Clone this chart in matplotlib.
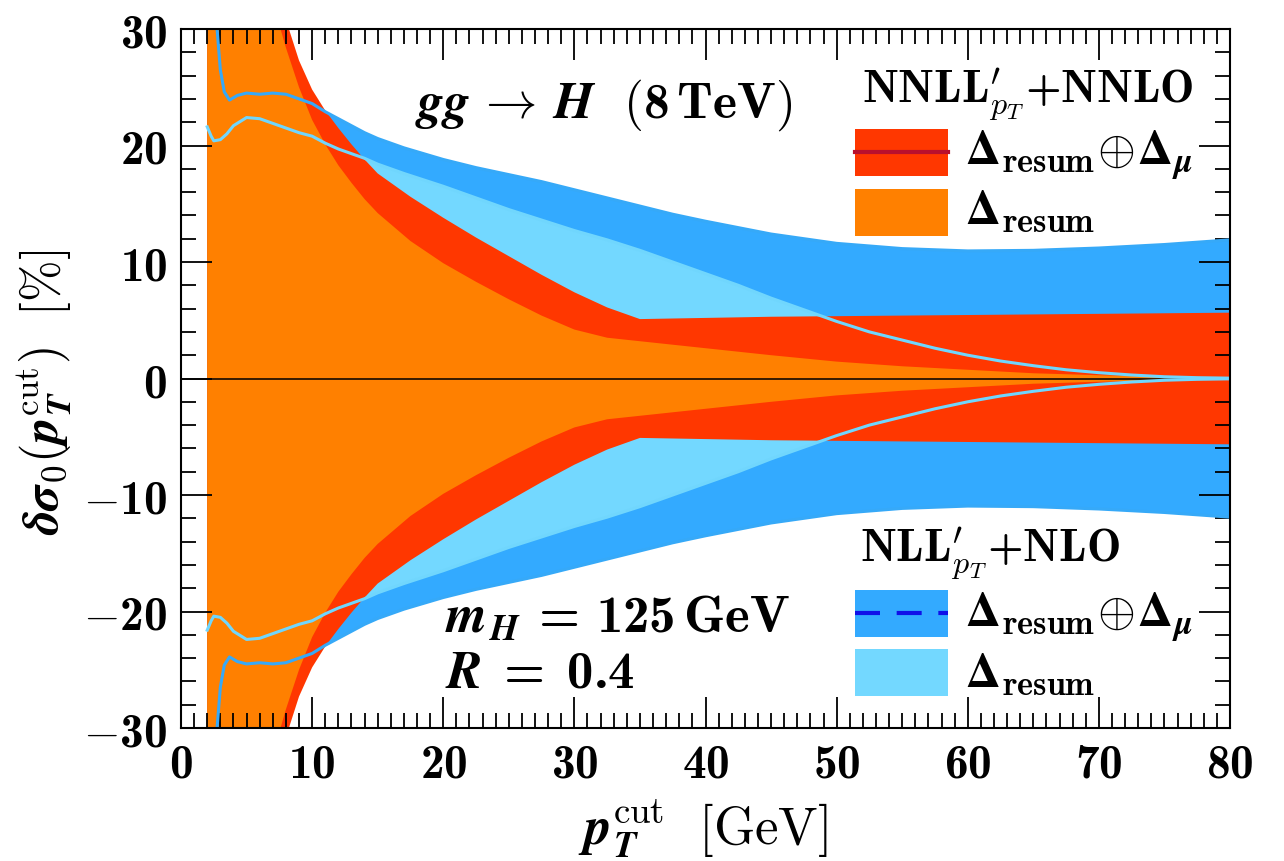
import matplotlib
matplotlib.use("Agg")
import matplotlib.pyplot as plt
from matplotlib.patches import Rectangle
from matplotlib.ticker import MultipleLocator, FuncFormatter

plt.rcParams["mathtext.fontset"] = "custom"
plt.rcParams["mathtext.rm"] = "cmr10"
plt.rcParams["mathtext.it"] = "cmmi10"
plt.rcParams["mathtext.bf"] = "cmb10"
plt.rcParams["mathtext.bfit"] = "STIXGeneral:italic:bold"
plt.rcParams["mathtext.sf"] = "STIXGeneral:bold"
plt.rcParams["mathtext.fallback"] = "cm"

# NNLL'+NNLO bands (symmetric around 0), values in %
pt_nnlo = [2, 3, 4, 5, 6, 7, 8, 9, 10, 11, 12, 13, 14, 15, 17.5, 20, 22.5, 25,
           27.5, 30, 32.5, 35, 37.5, 40, 45, 50, 55, 60, 65, 70, 75, 80]
nnlo_total_up = [50, 48, 45, 42, 38, 34, 30.8, 27.3, 24.8, 23.0, 21.5, 20.1,
                 18.8, 17.6, 15.6, 13.8, 12.1, 10.5, 8.9, 7.4, 6.1, 5.1, 5.15,
                 5.2, 5.3, 5.35, 5.4, 5.45, 5.5, 5.55, 5.6, 5.65]
nnlo_total_dn = [-50, -48, -45, -42, -38, -34, -30.8, -27.3, -24.8, -23.0, -21.5,
                 -20.1, -18.8, -17.6, -15.6, -13.8, -12.1, -10.5, -8.9, -7.4,
                 -6.1, -5.1, -5.15, -5.2, -5.3, -5.35, -5.4, -5.45, -5.5, -5.55,
                 -5.6, -5.65]
nnlo_resum_up = [45, 42, 39, 37, 35, 32.3, 28.4, 25.0, 22.2, 20.1, 18.3, 16.8,
                 15.4, 14.2, 11.8, 9.9, 8.3, 6.8, 5.4, 4.2, 3.5, 3.2, 2.9,
                 2.6, 2.0, 1.45, 1.05, 0.75, 0.45, 0.28, 0.15, 0.08]
nnlo_resum_dn = [-45, -42, -39, -37, -35, -32.3, -28.4, -25.0, -22.2, -20.1,
                 -18.3, -16.8, -15.4, -14.2, -11.8, -9.9, -8.3, -6.8, -5.4,
                 -4.2, -3.5, -3.2, -2.9, -2.6, -2.0, -1.45, -1.05, -0.75, -0.45,
                 -0.28, -0.15, -0.08]

# NLL'+NLO bands
pt_nlo_total = [2, 2.5, 2.75, 3.0, 3.3, 3.7, 4.3, 5, 6, 7, 8, 9, 10, 11, 12, 13,
                14, 15, 17, 20, 22.5, 25, 27.5, 30, 32.5, 35, 37.5, 40, 45, 50,
                55, 60, 65, 70, 75, 80]
nlo_total_up = [45, 38, 30, 26.5, 24.6, 23.9, 24.3, 24.5, 24.4, 24.5, 24.4,
                24.0, 23.6, 22.9, 22.3, 21.7, 21.1, 20.6, 19.8, 18.8, 18.1,
                17.5, 16.9, 16.2, 15.5, 14.8, 14.1, 13.5, 12.4, 11.6, 11.15,
                10.95, 11.0, 11.2, 11.5, 11.9]
nlo_total_dn = [-45, -38, -30, -26.5, -24.6, -23.9, -24.3, -24.5, -24.4, -24.5,
                -24.4, -24.0, -23.6, -22.9, -22.3, -21.7, -21.1, -20.6, -19.8,
                -18.8, -18.1, -17.5, -16.9, -16.2, -15.5, -14.8, -14.1, -13.5,
                -12.4, -11.6, -11.15, -10.95, -11.0, -11.2, -11.5, -11.9]

pt_nlo_resum = [2, 2.3, 2.5, 3.0, 3.5, 4, 5, 6, 7, 8, 9, 10, 11, 12, 13, 14, 15,
                17, 20, 22.5, 25, 27.5, 30, 32.5, 35, 37.5, 40, 42.5, 45, 47.5,
                50, 52.5, 55, 57.5, 60, 62.5, 65, 67.5, 70, 72.5, 75, 77.5, 80]
nlo_resum_up = [21.6, 20.8, 20.4, 20.5, 21.0, 21.7, 22.4, 22.3, 21.9, 21.5,
                21.1, 20.8, 20.2, 19.7, 19.3, 18.9, 18.4, 17.6, 16.5, 15.5, 14.5,
                13.6, 12.7, 11.9, 11.0, 10.0, 9.0, 8.0, 6.9, 5.9, 4.9, 4.0, 3.3,
                2.6, 2.0, 1.5, 1.1, 0.75, 0.5, 0.3, 0.15, 0.07, 0.03]
nlo_resum_dn = [-21.6, -20.8, -20.4, -20.5, -21.0, -21.7, -22.4, -22.3, -21.9,
                -21.5, -21.1, -20.8, -20.2, -19.7, -19.3, -18.9, -18.4, -17.6,
                -16.5, -15.5, -14.5, -13.6, -12.7, -11.9, -11.0, -10.0, -9.0,
                -8.0, -6.9, -5.9, -4.9, -4.0, -3.3, -2.6, -2.0, -1.5, -1.1, -0.75,
                -0.5, -0.3, -0.15, -0.07, -0.03]

C_BLUE = "#33aaff"
C_LIGHT = "#73d8ff"
C_RED = "#ff3700"
C_ORANGE = "#ff8000"

FS = 34


def tick_fmt(v, pos):
    v = int(round(v))
    if v < 0:
        return r"$-\mathbf{%d}$" % (-v)
    return r"$\mathbf{%d}$" % v


def main():
    fig = plt.figure(figsize=(12.84, 8.62), dpi=100)
    ax = fig.add_axes([181 / 1284, 133 / 862, 1049 / 1284, 699 / 862])

    ax.fill_between(pt_nlo_total, nlo_total_dn, nlo_total_up, color=C_BLUE, lw=0)
    ax.fill_between(pt_nlo_resum, nlo_resum_dn, nlo_resum_up, color=C_LIGHT, lw=0)
    ax.fill_between(pt_nnlo, nnlo_total_dn, nnlo_total_up, color=C_RED, lw=0)
    ax.fill_between(pt_nnlo, nnlo_resum_dn, nnlo_resum_up, color=C_ORANGE, lw=0)

    ax.axhline(0, color="black", lw=1.1)

    # NLO band edges drawn on top of the NNLO bands
    for ys in (nlo_resum_up, nlo_resum_dn):
        ax.plot(pt_nlo_resum, ys, color="#70d6fd", lw=2.2)
    for ys in (nlo_total_up, nlo_total_dn):
        ax.plot(pt_nlo_total, ys, color="#36a9f8", lw=2.2)

    ax.set_xlim(0, 80)
    ax.set_ylim(-30, 30)
    ax.xaxis.set_major_locator(MultipleLocator(10))
    ax.xaxis.set_minor_locator(MultipleLocator(1))
    ax.yaxis.set_major_locator(MultipleLocator(10))
    ax.yaxis.set_minor_locator(MultipleLocator(2))
    ax.xaxis.set_major_formatter(FuncFormatter(tick_fmt))
    ax.yaxis.set_major_formatter(FuncFormatter(tick_fmt))
    ax.tick_params(which="both", direction="in", top=True, right=True,
                   width=1.3, labelsize=FS)
    ax.tick_params(which="major", length=22, pad=10)
    ax.tick_params(which="minor", length=11)
    for sp in ax.spines.values():
        sp.set_linewidth(1.5)

    fig.text(703 / 1284, 17 / 862,
             r"$\mathbfit{p}_{\mathbfit{T}}^{\mathrm{cut}}\ \ [\mathrm{GeV}]$",
             fontsize=38, ha="center", va="baseline")
    fig.text(0.035, 0.545,
             r"$\mathbfit{\delta\sigma}_{0}(\mathbfit{p}_{\mathbfit{T}}^{\mathrm{cut}})\ \ [\%]$",
             fontsize=36, ha="center", va="center", rotation=90)

    tr = ax.transAxes
    ax.text(0.403, 0.874, r"$\mathbfit{gg}\,\rightarrow\,\mathbfit{H}\ \ (\mathbf{8\,TeV})$",
            transform=tr, fontsize=37, ha="center", va="baseline")
    ax.text(0.252, 0.139, r"$\mathbfit{m}_{\mathbfit{H}}\,\mathbf{=}\,\mathbf{125\,GeV}$",
            transform=tr, fontsize=38, ha="left", va="baseline")
    ax.text(0.252, 0.0587, r"$\mathbfit{R}\;\mathbf{=}\;\mathbf{0.4}$",
            transform=tr, fontsize=38, ha="left", va="baseline")

    # legends drawn by hand
    lab_tot = r"$\mathsf{\Delta}_{\mathbf{resum}}\!\oplus\!\mathsf{\Delta}_{\mathbfit{\mu}}$"
    lab_res = r"$\mathsf{\Delta}_{\mathbf{resum}}$"
    ax.text(0.8075, 0.8956, r"$\mathbf{NNLL}^{\prime}_{p_T}\mathbf{+NNLO}$",
            transform=tr, fontsize=33, ha="center", va="baseline")
    ax.text(0.771, 0.239, r"$\mathbf{NLL}^{\prime}_{p_T}\mathbf{+NLO}$",
            transform=tr, fontsize=33, ha="center", va="baseline")

    px0, pw, ph = 0.6425, 0.0887, 0.0672
    ax.add_patch(Rectangle((px0, 0.7897), pw, ph, transform=tr, color=C_RED, lw=0))
    ax.plot([px0, px0 + pw], [0.824, 0.824], transform=tr, color="#b8102e", lw=3)
    ax.add_patch(Rectangle((px0, 0.7039), pw, ph, transform=tr, color=C_ORANGE, lw=0))
    ax.add_patch(Rectangle((px0, 0.1302), pw, ph, transform=tr, color=C_BLUE, lw=0))
    ax.plot([px0, px0 + pw], [0.1645, 0.1645], transform=tr, color="#1010e8", lw=3,
            dashes=(6, 4))
    ax.add_patch(Rectangle((px0, 0.0458), pw, ph, transform=tr, color=C_LIGHT, lw=0))

    ax.text(0.747, 0.807, lab_tot, transform=tr, fontsize=35, va="baseline")
    ax.text(0.747, 0.721, lab_res, transform=tr, fontsize=35, va="baseline")
    ax.text(0.747, 0.146, lab_tot, transform=tr, fontsize=35, va="baseline")
    ax.text(0.747, 0.0587, lab_res, transform=tr, fontsize=35, va="baseline")

    fig.savefig("out.png", dpi=100)
    plt.close(fig)


if __name__ == "__main__":
    main()
